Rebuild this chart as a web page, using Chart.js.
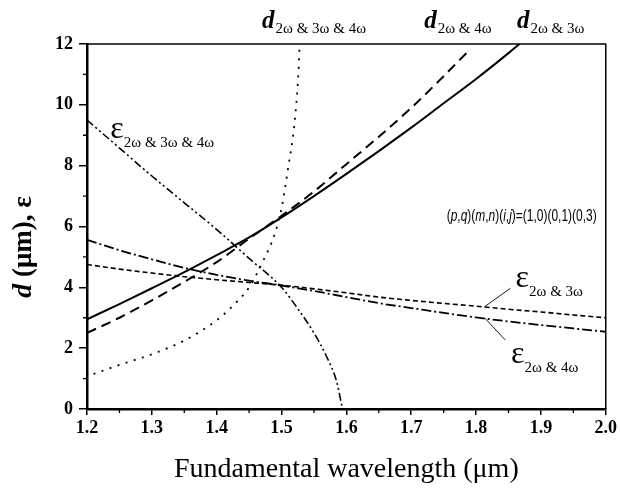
<!DOCTYPE html>
<html>
<head>
<meta charset="utf-8">
<script src="https://cdn.jsdelivr.net/npm/chart.js@4.4.1/dist/chart.umd.min.js"></script>
<style>
  html, body { margin: 0; padding: 0; background: #fff; }
  canvas { display: block; }
</style>
</head>
<body>
<canvas id="chart" width="620" height="495"></canvas>
<script>
// d curves (µm) vs fundamental wavelength (µm)
const d23X = [1.2, 1.25, 1.3, 1.35, 1.4, 1.45, 1.5, 1.55, 1.6, 1.65, 1.7, 1.75, 1.8, 1.85, 1.867];
const d23Y = [2.95, 3.45, 3.97, 4.5, 5.06, 5.64, 6.3, 7.0, 7.73, 8.48, 9.25, 10.05, 10.85, 11.7, 12];

const d24X = [1.2, 1.25, 1.3, 1.35, 1.4, 1.45, 1.5, 1.55, 1.6, 1.65, 1.7, 1.75, 1.785];
const d24Y = [2.5, 3.0, 3.57, 4.18, 4.83, 5.6, 6.35, 7.15, 8.05, 8.95, 9.9, 10.94, 11.7];

const d234X = [1.21, 1.25, 1.3, 1.35, 1.4, 1.43, 1.45, 1.47, 1.49, 1.5, 1.51, 1.52, 1.526, 1.528];
const d234Y = [1.15, 1.45, 1.8, 2.25, 2.92, 3.5, 4.0, 4.8, 5.78, 6.6, 7.9, 9.39, 11.03, 12];

// epsilon curves
const eps234X = [1.2, 1.25, 1.3, 1.35, 1.4, 1.45, 1.5, 1.525, 1.55, 1.57, 1.585, 1.594];
const eps234Y = [9.5, 8.58, 7.66, 6.78, 5.9, 4.95, 4.0, 3.3, 2.5, 1.7, 0.9, 0];

const epsX = [1.2, 1.25, 1.3, 1.35, 1.4, 1.45, 1.5, 1.55, 1.6, 1.65, 1.7, 1.75, 1.8, 1.85, 1.9, 1.95, 2.0];
const eps23Y = [4.75, 4.6, 4.47, 4.35, 4.25, 4.16, 4.07, 3.95, 3.82, 3.68, 3.57, 3.47, 3.38, 3.28, 3.19, 3.09, 3.0];
const eps24Y = [5.56, 5.22, 4.92, 4.64, 4.41, 4.22, 4.06, 3.88, 3.68, 3.48, 3.32, 3.16, 3.01, 2.88, 2.76, 2.65, 2.54];

const SERIF = '"Liberation Serif", "Times New Roman", serif';
const SANS = '"Liberation Sans", Arial, sans-serif';

const pts = (xs, ys) => xs.map((x, i) => ({ x, y: ys[i] }));

// curve labels, anchored in data units
const curveLabels = [
  { main: 'd', sub: '2ω & 3ω & 4ω', x: 1.470, y: 12.52, kind: 'd' },
  { main: 'd', sub: '2ω & 4ω', x: 1.720, y: 12.52, kind: 'd' },
  { main: 'd', sub: '2ω & 3ω', x: 1.863, y: 12.52, kind: 'd' },
  { main: 'ε', sub: '2ω & 3ω & 4ω', x: 1.236, y: 8.91, kind: 'e' },
  { main: 'ε', sub: '2ω & 3ω', x: 1.861, y: 4.02, kind: 'e' },
  { main: 'ε', sub: '2ω & 4ω', x: 1.854, y: 1.52, kind: 'e' },
];

const leaderLines = [
  [1.813, 3.36, 1.853, 3.97],
  [1.813, 3.0, 1.845, 2.27],
];

function drawRuns(ctx, runs, x, y) {
  let cx = x;
  runs.forEach(r => {
    ctx.font = r.font;
    ctx.fillText(r.t, cx, y);
    cx += ctx.measureText(r.t).width;
  });
}

function runsWidth(ctx, runs) {
  return runs.reduce((w, r) => { ctx.font = r.font; return w + ctx.measureText(r.t).width; }, 0);
}

const decorations = {
  id: 'decorations',
  afterDraw(chart) {
    const { ctx, chartArea: a, scales: { x, y } } = chart;
    ctx.save();
    ctx.strokeStyle = '#000';
    ctx.fillStyle = '#000';

    // top and right frame
    ctx.lineWidth = 1.5;
    ctx.beginPath();
    ctx.moveTo(a.left, a.top);
    ctx.lineTo(a.right, a.top);
    ctx.lineTo(a.right, a.bottom);
    ctx.stroke();

    // minor ticks
    ctx.lineWidth = 1.3;
    ctx.beginPath();
    for (let i = 0; i < x.ticks.length - 1; i++) {
      const px = x.getPixelForValue((x.ticks[i].value + x.ticks[i + 1].value) / 2);
      ctx.moveTo(px, a.bottom);
      ctx.lineTo(px, a.bottom + 4);
    }
    for (let i = 0; i < y.ticks.length - 1; i++) {
      const py = y.getPixelForValue((y.ticks[i].value + y.ticks[i + 1].value) / 2);
      ctx.moveTo(a.left, py);
      ctx.lineTo(a.left - 4, py);
    }
    ctx.stroke();

    // leader lines
    ctx.lineWidth = 0.9;
    ctx.beginPath();
    leaderLines.forEach(([x1, y1, x2, y2]) => {
      ctx.moveTo(x.getPixelForValue(x1), y.getPixelForValue(y1));
      ctx.lineTo(x.getPixelForValue(x2), y.getPixelForValue(y2));
    });
    ctx.stroke();

    // curve labels
    ctx.textBaseline = 'alphabetic';
    ctx.textAlign = 'left';
    curveLabels.forEach(l => {
      const px = x.getPixelForValue(l.x);
      const py = y.getPixelForValue(l.y);
      if (l.kind === 'd') {
        ctx.font = 'italic bold 25px ' + SERIF;
        ctx.fillText(l.main, px, py);
        const w = ctx.measureText(l.main).width;
        ctx.font = '15px ' + SERIF;
        ctx.fillText(l.sub, px + w + 1, py + 5);
      } else {
        ctx.font = '32px ' + SERIF;
        ctx.fillText(l.main, px, py);
        const w = ctx.measureText(l.main).width;
        ctx.font = '15px ' + SERIF;
        ctx.fillText(l.sub, px + w, py + 9);
      }
    });

    // (p,q)(m,n)(i,j)=(1,0)(0,1)(0,3) note, narrow like the original
    const it = 'italic 17px ' + SANS, up = '17px ' + SANS;
    const note = [
      { t: '(', font: up }, { t: 'p', font: it }, { t: ',', font: up }, { t: 'q', font: it },
      { t: ')(', font: up }, { t: 'm', font: it }, { t: ',', font: up }, { t: 'n', font: it },
      { t: ')(', font: up }, { t: 'i', font: it }, { t: ',', font: up }, { t: 'j', font: it },
      { t: ')=(1,0)(0,1)(0,3)', font: up },
    ];
    const nw = runsWidth(ctx, note);
    const sx = Math.min(1, 150 / nw);
    ctx.save();
    ctx.translate(x.getPixelForValue(1.986) - nw * sx, y.getPixelForValue(6.18));
    ctx.scale(sx, 1);
    drawRuns(ctx, note, 0, 0);
    ctx.restore();

    // axis titles
    ctx.font = '28px ' + SERIF;
    ctx.textAlign = 'center';
    ctx.fillText('Fundamental wavelength (μm)', (a.left + a.right) / 2, 477);

    ctx.textAlign = 'left';
    const yTitle = [
      { t: 'd', font: 'italic bold 28px ' + SERIF },
      { t: ' (μm), ε', font: 'bold 27px ' + SERIF },
    ];
    const tw = runsWidth(ctx, yTitle);
    ctx.save();
    ctx.translate(31, 247);
    ctx.rotate(-Math.PI / 2);
    drawRuns(ctx, yTitle, -tw / 2, 0);
    ctx.restore();

    ctx.restore();
  }
};

const line = (data, width, dash) => ({
  data,
  borderColor: '#000',
  borderWidth: width,
  borderDash: dash,
  pointRadius: 0,
  fill: false,
  cubicInterpolationMode: 'monotone',
});

new Chart(document.getElementById('chart'), {
  type: 'line',
  data: {
    datasets: [
      line(pts(d23X, d23Y), 2, []),
      line(pts(d24X, d24Y), 2, [10, 6]),
      line(pts(d234X, d234Y), 1.8, [2, 6.5]),
      line(pts(eps234X, eps234Y), 1.6, [8, 3, 2, 3, 2, 3]),
      line(pts(epsX, eps23Y), 1.6, [5, 3]),
      line(pts(epsX, eps24Y), 1.8, [10, 3, 2, 3]),
    ],
  },
  options: {
    responsive: false,
    animation: false,
    devicePixelRatio: 1,
    layout: { padding: { top: 44, right: 13, left: 0, bottom: 0 } },
    plugins: { legend: { display: false }, tooltip: { enabled: false } },
    scales: {
      x: {
        type: 'linear',
        min: 1.2,
        max: 2.0,
        afterFit: s => { s.height = 86; },
        border: { display: true, color: '#000', width: 2.5 },
        grid: { drawOnChartArea: false, drawTicks: true, tickLength: 6, color: '#000', lineWidth: 1.5 },
        ticks: {
          stepSize: 0.1,
          padding: 3,
          color: '#000',
          font: { family: SERIF, size: 18, weight: 'bold' },
          callback: v => v.toFixed(1),
        },
      },
      y: {
        min: 0,
        max: 12,
        afterFit: s => { s.width = 87; },
        border: { display: true, color: '#000', width: 2.5 },
        grid: { drawOnChartArea: false, drawTicks: true, tickLength: 8, color: '#000', lineWidth: 1.5 },
        ticks: {
          stepSize: 2,
          padding: 6,
          color: '#000',
          font: { family: SERIF, size: 18, weight: 'bold' },
        },
      },
    },
  },
  plugins: [decorations],
});
</script>
</body>
</html>
